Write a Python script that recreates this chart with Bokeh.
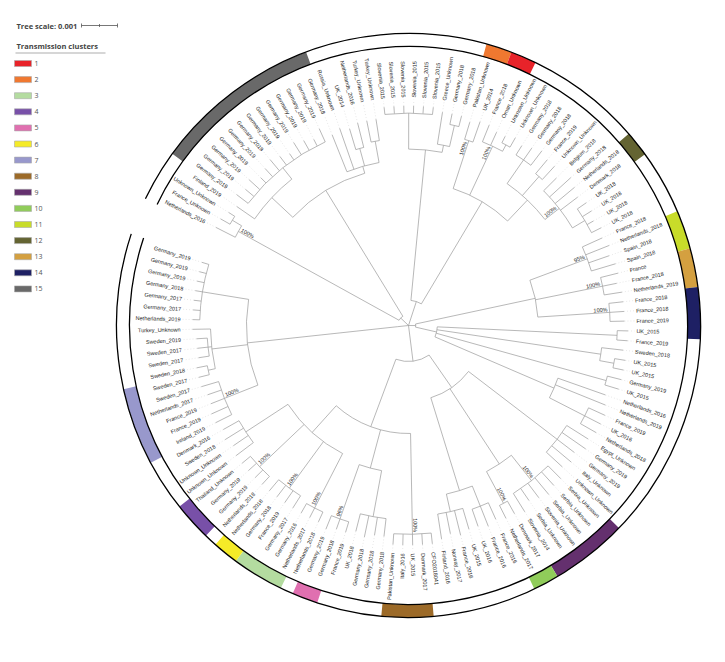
import math
from bokeh.plotting import figure
from bokeh.models import Range1d
from bokeh.embed import file_html
from bokeh.resources import INLINE
from bokeh.core.properties import value

# ---------------- data ----------------
leaf_labels = [
    "Netherlands_2016", "France_Unknown", "Unknown_Unknown", "Finland_2019",
    "Germany_2019", "Germany_2019", "Germany_2019", "Germany_2019", "Germany_2019", "Germany_2019",
    "Germany_2019", "Germany_2019", "Germany_2019", "Germany_2019", "Germany_2019", "Germany_2019",
    "Germany_2018", "Russia_Unknown", "UK_2014", "Netherlands_2016", "Turkey_Unknown", "Turkey_Unknown",
    "Slovenia_2015", "Slovenia_2015", "Slovenia_2015", "Slovenia_2015", "Slovenia_2015", "Slovenia_2015",
    "Greece_Unknown", "Germany_2018", "Germany_2018", "Pakistan_Unknown", "UK_2014", "France_2018",
    "Oman_Unknown", "Unknown_Unknown", "Unknown_Unknown", "Germany_2018", "Germany_2018", "Germany_2018",
    "France_2019", "Unknown_Unknown", "Belgium_2018", "Germany_2018", "Netherlands_2018", "Denmark_2018",
    "UK_2018", "UK_2018", "UK_2018", "UK_2018", "France_2018", "Netherlands_2018", "Spain_2018",
    "Spain_2018", "France", "France_2018", "Netherlands_2019", "France_2018", "France_2018",
    "France_2019", "UK_2015", "France_2019", "Sweden_2018", "UK_2015", "UK_2015", "Germany_2019",
    "UK_2015", "Netherlands_2016", "Netherlands_2019", "France_2019", "UK_2016", "Netherlands_2018",
    "Egypt_Unknown", "Germany_2019", "Germany_2019", "Italy_Unknown", "Unknown_Unknown",
    "Serbia_Unknown", "Serbia_Unknown", "Serbia_Unknown", "Slovenia_Unknown", "Serbia_Unknown",
    "Slovenia_2014", "Denmark_2017", "Netherlands_2017", "France_2016", "France_2016", "UK_2016",
    "UK_2015", "France_2016", "Norway_2017", "Finland_2016", "CFO2018041", "Denmark_2017", "UK_2015",
    "Italy_2016", "Pakistan_Unknown", "Germany_2018", "Germany_2018", "Germany_2018", "UK_2018",
    "France_2019", "Germany_2018", "Germany_2019", "Netherlands_2018", "Netherlands_2017",
    "Germany_2016", "Germany_2017", "France_2019", "Germany_2018", "Netherlands_2018",
    "Netherlands_2018", "Germany_2019", "Germany_2019", "Thailand_Unknown", "Unknown_Unknown",
    "Unknown_Unknown", "Sweden_2018", "Denmark_2016", "Ireland_2019", "France_2019", "France_2019",
    "Netherlands_2017", "Sweden_2017", "Sweden_2017", "Sweden_2018", "Sweden_2017", "Sweden_2017",
    "Sweden_2019", "Turkey_Unknown", "Netherlands_2019", "Germany_2017", "Germany_2017",
    "Germany_2018", "Germany_2019", "Germany_2019", "Germany_2019",
]

# tree topology, branch lengths in units of 0.0001 substitutions/site; internal names = bootstrap %
tree_newick = (
    # upper-left clade
    "(((L1:6,(L2:3,L3:2):3)100:51,((L4:6,(L5:4,L6:3,L7:4,L8:2,L9:3,L10:4,L11:3,L12:2,L13:4,L14:3,"
    "L15:2,L16:4):4):8,(L17:11,L18:12,(L19:6,L20:7):5,(L21:6,L22:6):6):2):41):3,"
    # top clades
    "((((L23:2,L24:2,L25:2,L26:2,L27:2,L28:2):10,(L29:9,(L30:3,L31:3):6):2):42,((L32:5,L33:6)100:14,"
    "(L34:5,L35:4,(L36:2,L37:3):2)100:15,((L38:3,L39:4,L40:5):8,(L41:5,L42:5):7,(L43:5,L44:8,L45:7,"
    "L46:6,(L47:3,L48:3,L49:2,L50:3):4)100:5):8):33):3):4,"
    # right clades
    "(((L51:6,L52:7,L53:6,L54:7)95:17,(L55:5,L56:4,L57:5)100:19,(L58:4,L59:4,L60:4)100:20):34,"
    "((L61:3,L62:3):50,(L63:6,(L64:3,L65:3):4):46,(L66:4,L67:4):49,(L68:14,L69:15,(L70:5,L71:5,"
    "L72:5):11):36):6):2,"
    # bottom clades
    "(((L73:7,L74:8,L75:6,L76:7,L77:6):31,((L78:5,L79:5,L80:6,L81:5,L82:4,L83:6)100:9,(L84:4,"
    "L85:4)100:10):25,((L86:5,L87:6,L88:5):6,(L89:6,L90:7,L91:6,L92:7):5):27):11,((L93:3,L94:3,"
    "L95:3,L96:3,L97:3)100:28,((L98:5,L99:5,L100:6,L101:5):13,(L102:3,L103:3,L104:4)96:16):11,"
    "((L105:3,L106:3,L107:3)100:17,(L108:4,L109:4,L110:4,L111:4)100:16,(L112:3,L113:3,L114:3,"
    "L115:3)100:17,(L116:6,L117:5,L118:6,L119:5):14):10):20):10,"
    # left clade
    "(((L120:5,L121:5,L122:4,L123:4,L124:5)100:10,((L125:3,L126:3):2,(L127:3,L128:3,L129:3):1,"
    "L130:5):10,(L131:2,L132:2,L133:2,L134:2,L135:2,L136:2,L137:2):13):42):3);"
)

cluster_ids = [15, 2, 1, 12, 11, 13, 14, 9, 10, 8, 5, 3, 6, 4, 7]
cluster_first_leaf = [5, 32, 34, 45, 52, 55, 58, 78, 84, 94, 103, 106, 110, 113, 120]
cluster_last_leaf = [17, 33, 35, 46, 54, 57, 61, 83, 85, 97, 104, 109, 111, 115, 125]

legend_numbers = list(range(1, 16))
legend_colors = ["#E8232A", "#F07830", "#B4DCA0", "#7850A8", "#E070B0", "#F5EB28", "#9898CC",
                 "#9C6A28", "#64306E", "#90CC5A", "#C8DC2A", "#646432", "#D4A040", "#1E2064", "#696969"]

scale_value = 0.001
unit = 0.0001

# ---------------- layout constants ----------------
W, H = 725, 660
CX, CY = 408, H - 325
PX_PER_SUBST = 36000.0
START_DEG = 153.0
SPAN_DEG = 350.0
R_LABEL = 228
R_IN, R_OUT = 279, 292
FONT = value("Liberation Sans")


def pg(X, Y):
    return X, H - Y


# ---------------- parse tree ----------------
def parse_newick(s):
    s = "".join(s.split())
    pos = 0

    def node():
        nonlocal pos
        nd = {"children": [], "name": "", "len": 0.0}
        if s[pos] == "(":
            pos += 1
            while True:
                nd["children"].append(node())
                if s[pos] == ",":
                    pos += 1
                else:
                    pos += 1
                    break
        st = pos
        while pos < len(s) and s[pos] not in ":,();":
            pos += 1
        nd["name"] = s[st:pos]
        if pos < len(s) and s[pos] == ":":
            pos += 1
            st = pos
            while pos < len(s) and s[pos] not in ",();":
                pos += 1
            nd["len"] = float(s[st:pos])
        return nd

    return node()


root = parse_newick(tree_newick)
N = len(leaf_labels)
step = SPAN_DEG / (N - 1)
leaf_angle = [math.radians(START_DEG - i * step) for i in range(N)]
leaf_r = [0.0] * N

seg = {"x0": [], "y0": [], "x1": [], "y1": []}
arcs = {"r": [], "a0": [], "a1": []}
boots = []


def layout(nd, r_parent):
    r = r_parent + nd["len"] * unit * PX_PER_SUBST
    if not nd["children"]:
        idx = int(nd["name"][1:]) - 1
        a = leaf_angle[idx]
        leaf_r[idx] = r
    else:
        angs = [layout(c, r) for c in nd["children"]]
        a = (angs[0] + angs[-1]) / 2
        if r > 0 and max(angs) - min(angs) > 1e-6:
            arcs["r"].append(r)
            arcs["a0"].append(min(angs))
            arcs["a1"].append(max(angs))
        if nd["name"]:
            boots.append((r, a, nd["name"] + "%"))
    if nd is not root:
        seg["x0"].append(CX + r_parent * math.cos(a))
        seg["y0"].append(CY + r_parent * math.sin(a))
        seg["x1"].append(CX + r * math.cos(a))
        seg["y1"].append(CY + r * math.sin(a))
    return a


layout(root, 0.0)

# ---------------- figure ----------------
p = figure(width=W, height=H, x_range=Range1d(0, W), y_range=Range1d(0, H),
           output_backend="svg", toolbar_location=None, min_border=0)
p.xaxis.visible = False
p.yaxis.visible = False
p.grid.visible = False
p.outline_line_color = None
p.background_fill_color = "white"

# cluster ring
for cid, f, l in zip(cluster_ids, cluster_first_leaf, cluster_last_leaf):
    a_hi = leaf_angle[f - 1] + math.radians(step / 2)
    a_lo = leaf_angle[l - 1] - math.radians(step / 2)
    p.annular_wedge(x=CX, y=CY, inner_radius=R_IN, outer_radius=R_OUT, start_angle=a_lo, end_angle=a_hi,
                    fill_color=legend_colors[cid - 1], line_color=None)
ring_lo = leaf_angle[-1] - math.radians(step / 2)
ring_hi = leaf_angle[0] + math.radians(step / 2)
p.arc(x=[CX, CX], y=[CY, CY], radius=[R_IN, R_OUT], start_angle=ring_lo, end_angle=ring_hi,
      line_color="black", line_width=1.3)

# guide lines
gx0, gy0, gx1, gy1 = [], [], [], []
for i in range(N):
    a = leaf_angle[i]
    gx0.append(CX + leaf_r[i] * math.cos(a))
    gy0.append(CY + leaf_r[i] * math.sin(a))
    gx1.append(CX + (R_LABEL - 2) * math.cos(a))
    gy1.append(CY + (R_LABEL - 2) * math.sin(a))
p.segment(gx0, gy0, gx1, gy1, line_color="#d8d8d8", line_width=0.6, line_dash="1 2")

# branches
p.segment(seg["x0"], seg["y0"], seg["x1"], seg["y1"], line_color="#9a9a9a", line_width=0.7)
p.arc(x=[CX] * len(arcs["r"]), y=[CY] * len(arcs["r"]), radius=arcs["r"], start_angle=arcs["a0"],
      end_angle=arcs["a1"], line_color="#9a9a9a", line_width=0.7)

# leaf labels
R_side = {"x": [], "y": [], "t": [], "a": []}
L_side = {"x": [], "y": [], "t": [], "a": []}
for i in range(N):
    a = leaf_angle[i]
    x = CX + R_LABEL * math.cos(a)
    y = CY + R_LABEL * math.sin(a)
    if math.cos(a) >= 0:
        R_side["x"].append(x); R_side["y"].append(y); R_side["t"].append(leaf_labels[i]); R_side["a"].append(a)
    else:
        L_side["x"].append(x); L_side["y"].append(y); L_side["t"].append(leaf_labels[i]); L_side["a"].append(a + math.pi)
p.text(x=R_side["x"], y=R_side["y"], text=R_side["t"], angle=R_side["a"], text_align="left",
       text_baseline="middle", text_font=FONT, text_font_size="5.5px", text_color="#222222")
p.text(x=L_side["x"], y=L_side["y"], text=L_side["t"], angle=L_side["a"], text_align="right",
       text_baseline="middle", text_font=FONT, text_font_size="5.5px", text_color="#222222")

# bootstrap labels
bR = {"x": [], "y": [], "t": [], "a": []}
bL = {"x": [], "y": [], "t": [], "a": []}
for r, a, t in boots:
    x = CX + (r - 2) * math.cos(a)
    y = CY + (r - 2) * math.sin(a)
    if math.cos(a) >= 0:
        bR["x"].append(x); bR["y"].append(y); bR["t"].append(t); bR["a"].append(a)
    else:
        bL["x"].append(x); bL["y"].append(y); bL["t"].append(t); bL["a"].append(a + math.pi)
p.text(x=bR["x"], y=bR["y"], text=bR["t"], angle=bR["a"], text_align="right", text_baseline="bottom",
       text_font=FONT, text_font_size="5.5px", text_color="#222222")
p.text(x=bL["x"], y=bL["y"], text=bL["t"], angle=bL["a"], text_align="left", text_baseline="bottom",
       text_font=FONT, text_font_size="5.5px", text_color="#222222")

# tree scale
tx, ty = pg(16, 25)
p.text(x=[tx], y=[ty], text=["Tree scale: %g" % scale_value], text_font=value("Open Sans"),
       text_font_size="7.5px", text_font_style="bold", text_color="#444444", text_baseline="middle")
bx0, by = pg(81, 25)
blen = scale_value * PX_PER_SUBST
p.segment([bx0, bx0, bx0 + blen / 2, bx0 + blen], [by, by - 2, by - 1.5, by - 2],
          [bx0 + blen, bx0, bx0 + blen / 2, bx0 + blen], [by, by + 2, by + 1.5, by + 2],
          line_color="#555555", line_width=0.8)

# legend
lx, ly = pg(16, 45)
p.text(x=[lx], y=[ly], text=["Transmission  clusters"], text_font=value("Open Sans"),
       text_font_size="7.5px", text_font_style="bold", text_color="#444444", text_baseline="middle")
ux0, uy = pg(15, 52.5)
p.segment([ux0], [uy], [ux0 + 90], [uy], line_color="#c8c8c8", line_width=1.5)
sx0, _ = pg(14, 0)
sx1, _ = pg(31, 0)
ys = [pg(0, 63 + 16.1 * k)[1] for k in range(len(legend_numbers))]
p.quad(left=sx0, right=sx1, bottom=[y - 3 for y in ys], top=[y + 3 for y in ys],
       fill_color=legend_colors, line_color="#aaaaaa", line_width=0.6)
nx, _ = pg(34, 0)
p.text(x=[nx] * len(ys), y=ys, text=[str(n) for n in legend_numbers], text_font=value("Open Sans"),
       text_font_size="7px", text_color="#555555", text_baseline="middle")

open("out.html", "w").write(file_html(p, INLINE))
